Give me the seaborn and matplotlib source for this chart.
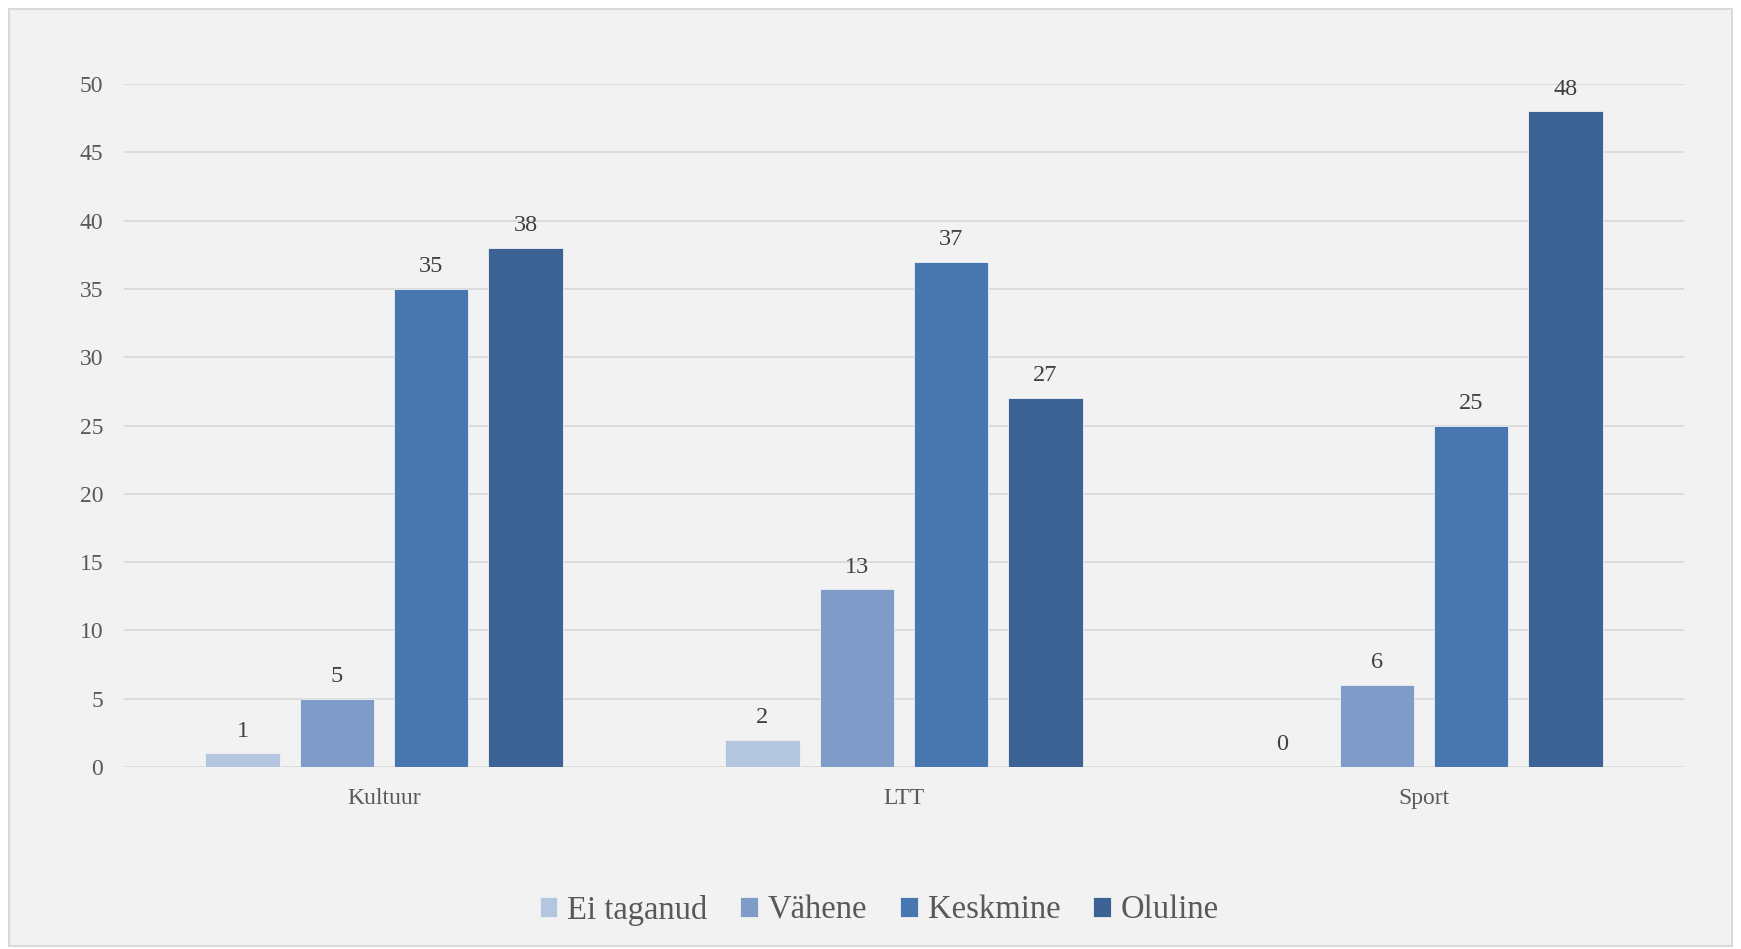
import pandas as pd
import matplotlib
matplotlib.use("Agg")
import matplotlib.pyplot as plt
import seaborn as sns
from matplotlib.patches import Rectangle

# Chart data
categories = ["Kultuur", "LTT", "Sport"]
levels = ["Ei taganud", "Vähene", "Keskmine", "Oluline"]
ei_taganud = [1, 2, 0]
vahene = [5, 13, 6]
keskmine = [35, 37, 25]
oluline = [38, 27, 48]
level_colors = ["#B4C5DF", "#7F9CC8", "#4877B0", "#3C6394"]
y_ticks = list(range(0, 55, 5))

rows = []
for level, values in zip(levels, [ei_taganud, vahene, keskmine, oluline]):
    for cat, v in zip(categories, values):
        rows.append({"category": cat, "level": level, "value": v})
df = pd.DataFrame(rows)

sns.set_style("white")
plt.rcParams["font.family"] = ["Liberation Serif", "DejaVu Serif"]

fig = plt.figure(figsize=(17.41, 9.49), dpi=100, facecolor="white")
# chart area background with thin border
fig.patches.append(Rectangle((9 / 1741, 3 / 949), 1723 / 1741, 937 / 949,
                             transform=fig.transFigure, facecolor="#F2F2F2",
                             edgecolor="#D9D9D9", linewidth=1.5, zorder=-10))

ax = fig.add_axes([124 / 1741, 182 / 949, 1560 / 1741, 683 / 949])
ax.set_facecolor("none")

sns.barplot(data=df, x="category", y="value", hue="level", order=categories,
            hue_order=levels, palette=level_colors, saturation=1,
            width=0.726, gap=0.21, edgecolor="#EEF1F6", linewidth=0.6,
            errorbar=None, ax=ax)

for cont in ax.containers:
    ax.bar_label(cont, fmt="%d", padding=8.5, fontsize=17.5, color="#404040",
                 clip_on=False)

ax.set_xlim(-0.5, 2.5)
ax.set_ylim(0, 50)
ax.set_yticks(y_ticks)
ax.grid(axis="y", color="#D9D9D9", linewidth=1.3)
ax.set_axisbelow(True)
for s in ax.spines.values():
    s.set_visible(False)
ax.tick_params(axis="y", length=0, pad=15, labelsize=17, labelcolor="#595959")
ax.tick_params(axis="x", length=0, pad=15, labelsize=17, labelcolor="#595959")
ax.set_xlabel("")
ax.set_ylabel("")

handles, labels = ax.get_legend_handles_labels()
ax.get_legend().remove()
leg = fig.legend(handles, labels, loc="center", bbox_to_anchor=(0.505, 39 / 949),
                 ncol=4, frameon=False, fontsize=23.5, handlelength=0.55,
                 handleheight=0.55, handletextpad=0.3, columnspacing=1.0,
                 labelcolor="#595959")

fig.savefig("out.png", dpi=100, facecolor=fig.get_facecolor())
